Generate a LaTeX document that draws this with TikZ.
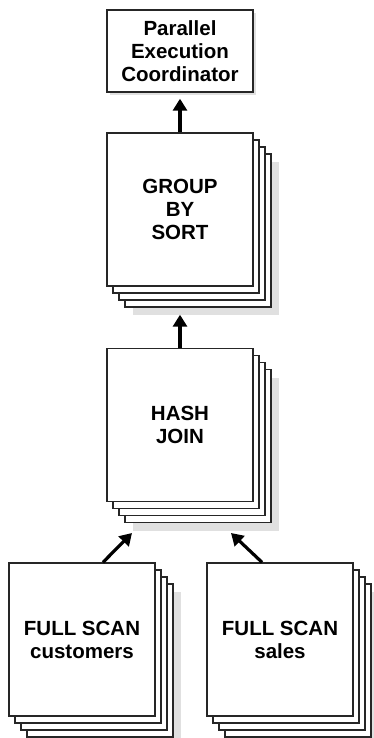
\documentclass[tikz,border=0pt]{standalone}
\usepackage{fontspec}
\setmainfont{Liberation Sans}
\usetikzlibrary{shadows,arrows.meta}

\tikzset{
  box/.style={draw=black!85, line width=1.4pt, fill=white, minimum width=146pt,
    inner sep=0pt, align=center, font=\fontsize{20.5}{23}\selectfont\bfseries},
  single/.style={box, general shadow={shadow xshift=3pt, shadow yshift=-3pt, fill=black!12}},
  pages/.style={box, minimum height=153pt,
    general shadow={shadow xshift=26pt, shadow yshift=-29pt, fill=black!12},
    copy shadow={shadow xshift=18pt, shadow yshift=-21pt},
    copy shadow={shadow xshift=12pt, shadow yshift=-14pt},
    copy shadow={shadow xshift=6pt, shadow yshift=-7pt}},
  up/.style={-{Triangle[length=12pt,width=14pt]}, line width=3.2pt}
}

\begin{document}
\begin{tikzpicture}[x=1pt,y=1pt]
            \useasboundingbox (0,0) rectangle (373,-738);
            \node[single, minimum height=82pt] (coord) at (180,-51) {Parallel\\Execution\\Coordinator};
            \node[pages] (group) at (180,-209.5) {GROUP\\BY\\SORT};
            \node[pages] (hash) at (180,-425) {HASH\\JOIN};
            \node[pages] (cust) at (82,-639.5) {FULL SCAN\\customers};
            \node[pages] (sales) at (280,-639.5) {FULL SCAN\\sales};

            \coordinate (coordin) at ([yshift=-6pt]coord.south);
            \coordinate (groupin) at ([yshift=-28pt]group.south);
            \coordinate (hashinl) at (132,-533);
            \coordinate (hashinr) at (231,-533);
            \draw[up] (group.north) -- (coordin);
            \draw[up] (hash.north) -- (groupin);
            \draw[up] ([xshift=21pt]cust.north) -- (hashinl);
            \draw[up] ([xshift=-18pt]sales.north) -- (hashinr);
        \end{tikzpicture}
\end{document}
